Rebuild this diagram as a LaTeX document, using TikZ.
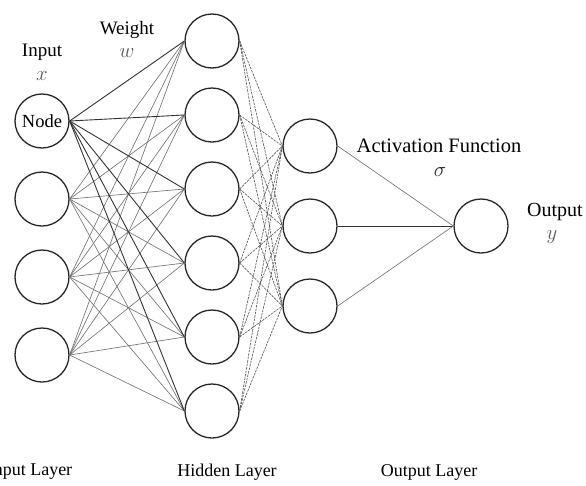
\documentclass[tikz,border=0pt]{standalone}
\usepackage{fontspec}
\setmainfont{Liberation Serif}
\begin{document}
\begin{tikzpicture}[x=1pt,y=-1pt,
  neuron/.style={draw=black!85,line width=1.3pt,circle,minimum size=54pt,inner sep=0pt},
  darkw/.style={draw=black!80,line width=0.9pt},
  lightw/.style={draw=black!55,line width=0.65pt},
  dashw/.style={draw=black!65,line width=0.65pt,dash pattern=on 2.5pt off 1pt},
  toplbl/.style={font=\fontsize{19}{22}\selectfont},
  botlbl/.style={font=\fontsize{18}{21}\selectfont},
  mathlbl/.style={text=black!65,font=\fontsize{22}{24}\selectfont}]
\useasboundingbox (0,0) rectangle (586,485);
% input layer
\node[neuron,font=\fontsize{18.5}{21}\selectfont] (i1) at (42,121) {Node};
\foreach \k/\y in {2/199,3/277,4/355} \node[neuron] (i\k) at (42,\y) {};
% hidden layer
\foreach \k/\y in {1/41,2/115,3/189,4/263,5/337,6/411} \node[neuron] (h\k) at (212,\y) {};
% activation layer
\foreach \k/\y in {1/146,2/226,3/306} \node[neuron] (a\k) at (310,\y) {};
% output
\node[neuron] (o) at (481,226) {};
% connections input -> hidden
\foreach \i in {2,3,4}{\foreach \h in {1,...,6}{\draw[lightw] (i\i.east) -- (h\h.west);}}
\foreach \h in {1,...,6}{\draw[darkw] (i1.east) -- (h\h.west);}
% hidden -> activation
\foreach \h in {1,...,6}{\foreach \a in {1,2,3}{\draw[dashw] (h\h.east) -- (a\a.west);}}
% activation -> output
\draw[lightw] (a1.east) -- (o.west);
\draw[darkw] (a2.east) -- (o.west);
\draw[lightw] (a3.east) -- (o.west);
% labels
\node[toplbl] (tin) at (42,52) {Input};
\node[mathlbl] (tx) at (42,76) {$x$};
\node[toplbl] (tw) at (127,30) {Weight};
\node[mathlbl] (tww) at (127,53) {$w$};
\node[font=\fontsize{20.5}{24}\selectfont] (tact) at (439,146) {Activation Function};
\node[mathlbl,text=black!85] (ts) at (440,172) {$\sigma$};
\node[font=\fontsize{20}{23}\selectfont] (tout) at (555,212) {Output};
\node[mathlbl] (ty) at (552,237) {$y$};
\node[botlbl] (l1) at (30,472) {Input Layer};
\node[botlbl] (l2) at (227,472) {Hidden Layer};
\node[botlbl] (l3) at (429,472) {Output Layer};
\end{tikzpicture}
\end{document}
